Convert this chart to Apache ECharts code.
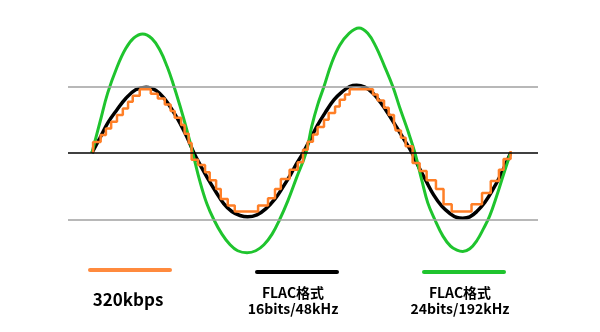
<!DOCTYPE html>
<html>
<head>
<meta charset="utf-8">
<script src="https://cdn.jsdelivr.net/npm/echarts@6/dist/echarts.min.js"></script>
<style>html,body{margin:0;padding:0;background:#fff;}#c{width:600px;height:332px;}</style>
</head>
<body>
<div id="c"></div>
<script>
// Phase in degrees (two full cycles: 0..720), amplitude in units (grey guide lines at ±1)
var seriesNames = ['320kbps', 'FLAC格式\n16bits/48kHz', 'FLAC格式\n24bits/192kHz'];
var guideLevels = [1, 0, -1];

var greenX = [0,14,27,43,58,72,87,103,117,129,139,151,163,173,185,197,209,223,237,250,266,281,295,309,322,336,351,367,377,387,398,411,425,441,458,473,487,502,516,528,542,554,566,576,588,602,615,626,636,648,660,672,682,694,706,718];
var greenY = [0,0.47,0.90,1.29,1.57,1.73,1.79,1.72,1.54,1.30,1.05,0.71,0.34,0,-0.42,-0.76,-1.0,-1.22,-1.38,-1.47,-1.50,-1.47,-1.38,-1.22,-1.0,-0.72,-0.37,0,0.40,0.72,1.0,1.35,1.62,1.80,1.88,1.80,1.60,1.30,1.0,0.68,0.33,0,-0.42,-0.75,-1.0,-1.25,-1.40,-1.46,-1.48,-1.44,-1.32,-1.13,-0.95,-0.65,-0.32,0];

var blackX = [0,14,27,43,58,75,93,110,125,139,151,163,175,187,199,213,226,240,254,267,283,298,314,327,341,351,362,374,387,401,415,429,442,454,468,482,495,509,523,537,549,561,573,586,600,614,626,636,648,660,674,687,701,718];
var blackY = [0,0.23,0.45,0.65,0.82,0.95,0.99,0.94,0.81,0.63,0.45,0.24,0,-0.2,-0.39,-0.59,-0.76,-0.88,-0.94,-0.96,-0.93,-0.84,-0.69,-0.52,-0.32,-0.16,0,0.2,0.42,0.62,0.8,0.92,1.0,1.02,0.99,0.9,0.76,0.58,0.38,0.18,0,-0.22,-0.42,-0.63,-0.8,-0.91,-0.97,-0.98,-0.96,-0.88,-0.74,-0.56,-0.33,0];

var orangeX = [2,2,15,24,33,43,53,62,70,82,101,113,125,135,142,153,159,166,171,182,194,202,213,221,233,245,285,302,314,324,339,353,362,370,379,387,398,406,417,425,434,442,482,490,501,509,518,521,530,538,550,562,574,590,603,617,651,669,684,698,706,718];
var orangeY = [0,0.165,0.27,0.37,0.47,0.57,0.67,0.77,0.86,0.96,0.89,0.82,0.73,0.63,0.53,0.42,0.29,0.15,-0.1,-0.18,-0.29,-0.41,-0.54,-0.69,-0.79,-0.88,-0.79,-0.68,-0.54,-0.39,-0.25,-0.14,0.05,0.17,0.28,0.39,0.5,0.6,0.7,0.8,0.88,0.96,0.88,0.79,0.68,0.57,0.45,0.34,0.23,0.1,-0.15,-0.27,-0.41,-0.54,-0.77,-0.88,-0.77,-0.6,-0.42,-0.25,-0.09,0.03];

var colors = ['#ff7f27', '#000000', '#1fc42e'];
var legendColors = ['#ff8a3d', '#000000', '#1fc42e'];

function pairs(xs, ys) { return xs.map(function (x, i) { return [x, ys[i]]; }); }

var chart = echarts.init(document.getElementById('c'), null, { renderer: 'canvas' });
var legendCx = [130, 297, 464];
var legendLineY = [270, 272, 272];
var graphics = [];
seriesNames.forEach(function (n, i) {
  graphics.push({
    type: 'line', silent: true,
    shape: { x1: legendCx[i] - 40, y1: legendLineY[i], x2: legendCx[i] + 40, y2: legendLineY[i] },
    style: { stroke: legendColors[i], lineWidth: 4, lineCap: 'round' }
  });
  var lines = n.split('\n');
  if (lines.length === 1) {
    graphics.push({ type: 'text', silent: true, x: legendCx[i] - 2, y: 300,
      style: { text: lines[0], fill: '#000', font: 'bold 17px "Noto Sans CJK JP", sans-serif', textAlign: 'center', textVerticalAlign: 'middle' } });
  } else {
    lines.forEach(function (t, k) {
      graphics.push({ type: 'text', silent: true, x: legendCx[i] - 4, y: 293 + k * 16,
        style: { text: t, fill: '#000', font: 'bold 14px "Noto Sans CJK JP", sans-serif', textAlign: 'center', textVerticalAlign: 'middle' } });
    });
  }
});

chart.setOption({
  animation: false,
  backgroundColor: '#fff',
  grid: { left: 68, width: 470, top: 20, height: 266 },
  xAxis: { type: 'value', min: -41, max: 765, show: false },
  yAxis: { type: 'value', min: -2, max: 2, show: false },
  graphic: graphics,
  series: [
    {
      type: 'line', data: [], silent: true,
      markLine: {
        silent: true, symbol: ['none', 'none'], label: { show: false },
        data: guideLevels.map(function (v) {
          return { yAxis: v, lineStyle: { color: v === 0 ? '#000' : '#a0a0a0', width: 1.5, type: 'solid' } };
        })
      }
    },
    { name: seriesNames[1], type: 'line', data: pairs(blackX, blackY), smooth: 0.4, showSymbol: false,
      lineStyle: { color: colors[1], width: 3.5 } },
    { name: seriesNames[2], type: 'line', data: pairs(greenX, greenY), smooth: 0.4, showSymbol: false,
      lineStyle: { color: colors[2], width: 3 } },
    { name: seriesNames[0], type: 'line', data: pairs(orangeX, orangeY), step: 'end', showSymbol: false,
      lineStyle: { color: colors[0], width: 2.5 } }
  ]
});
</script>
</body>
</html>
